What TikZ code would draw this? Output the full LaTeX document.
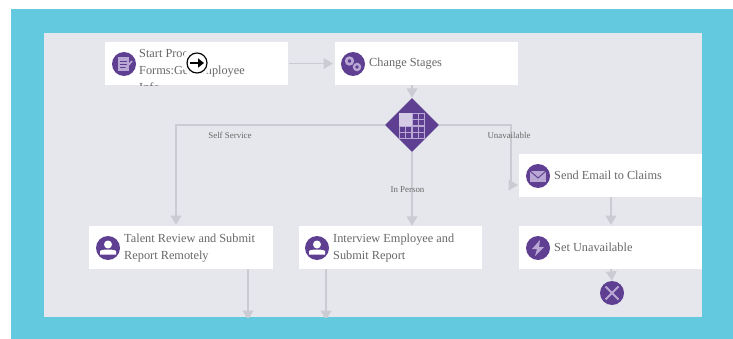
\documentclass[tikz,border=0pt]{standalone}
\usepackage{fontspec}
\setmainfont{Liberation Serif}
\usepackage{xcolor}
\usetikzlibrary{calc, positioning, arrows.meta, shapes.geometric}
\definecolor{frameTeal}{HTML}{62C9DE}
\definecolor{canvasGray}{HTML}{E6E7EC}
\definecolor{flowGray}{HTML}{CBCCD3}
\definecolor{iconPurple}{HTML}{5F3F92}
\definecolor{iconLilac}{HTML}{B9A8D3}
\definecolor{textGray}{HTML}{686868}
\tikzset{
    task/.style={rectangle, fill=white, minimum width=5.49cm, minimum height=1.29cm, inner sep=0pt},
    taskText/.style={anchor=west, align=left, inner sep=0pt, text=textGray, font=\fontsize{10.5}{14.4}\selectfont},
    edgeText/.style={inner sep=0pt, text=textGray, font=\fontsize{7.6}{8}\selectfont},
    flow/.style={draw=flowGray, line width=1.7pt, -{Triangle[length=8pt, width=9pt]}},
    badge/.style={circle, fill=iconPurple, minimum size=0.72cm, inner sep=0pt},
    gate/.style={diamond, fill=iconPurple, minimum size=1.62cm, inner sep=0pt},
    formIcon/.pic={
        \fill[iconLilac] (-6,-7) rectangle (5,7);
        \draw[iconPurple, line width=0.8pt] (-4,-3) -- (3,-3) (-4,0) -- (3,0) (-4,3) -- (3,3);
        \draw[iconLilac, line width=1.4pt] (2,4) -- (8,-3);
    },
    gearsIcon/.pic={
        \draw[iconLilac, line width=2.2pt] (-3.5,-3) circle (3.3);
        \draw[iconLilac, line width=2pt] (4,3) circle (3);
    },
    mailIcon/.pic={
        \fill[iconLilac] (-8,-5) rectangle (8,6);
        \draw[iconPurple, line width=0.8pt] (-8,-5) -- (0,2) -- (8,-5);
    },
    boltIcon/.pic={
        \fill[iconLilac] (2,-8) -- (-6,1) -- (-1,1) -- (-3,8) -- (6,-1) -- (1,-1) -- cycle;
    },
    userIcon/.pic={
        \fill[white] (0,-3.5) circle (4);
        \fill[white] (-8,6.5) -- (-8,3) .. controls (-6,1) and (6,1) .. (8,3) -- (8,6.5) -- cycle;
    },
    endIcon/.pic={
        \draw[iconLilac, line width=1.6pt] (-6.5,-6.5) -- (6.5,6.5) (-6.5,6.5) -- (6.5,-6.5);
    },
    gridIcon/.pic={
        \fill[iconLilac] (-13,-12) rectangle (13,14);
        \fill[iconLilac!60!white] (-13,-12) rectangle (0,1);
        \foreach \col in {0,1,2,3} {
            \foreach \row in {0,1,2,3} {
                \ifnum\numexpr\col+\row*4\relax=0 \else\ifnum\numexpr\col+\row*4\relax=1 \else\ifnum\numexpr\col+\row*4\relax=4 \else\ifnum\numexpr\col+\row*4\relax=5 \else
                \fill[iconPurple] ({-12+6.4*\col},{-11+6.4*\row}) rectangle +(5,5);
                \fi\fi\fi\fi
            }
        }
    }
}

\begin{document}
\begin{tikzpicture}[x=0.03cm, y=-0.03cm]
    \useasboundingbox (0,0) rectangle (733,339);

    % Frame and canvas
    \fill[frameTeal] (11,9) rectangle (733,339);
    \fill[canvasGray] (44,33) rectangle (702,317);

    \begin{scope}
    \clip (44,33) rectangle (702,317);

    % Tasks
    \node[task] (startBox) at (196.5,63.5) {};
    \node[task] (stagesBox) at (426.5,63.5) {};
    \node[task] (sendBox) at (610.5,175.5) {};
    \node[task] (unavailBox) at (610.5,247.5) {};
    \node[task] (talentBox) at (181,247.5) {};
    \node[task] (interviewBox) at (390.5,247.5) {};
    \node[gate] (routeGate) at (412,125) {};
    \node[badge] (endBadge) at (612,293) {};

    % Free ends of the connectors
    \coordinate (talentIn) at (176,225);
    \coordinate (sendCorner) at (510.5,185);
    \coordinate (sendIn) at (518,185);
    \coordinate (talentOut) at (248,320);
    \coordinate (interviewOut) at (326,320);

    % Connectors
    \draw[flow, shorten <=1pt, shorten >=1.5pt] (startBox.east) -- (stagesBox.west);
    \draw[flow] (routeGate.north |- stagesBox.south) -- (routeGate.north);
    \draw[flow] (routeGate.west) -| (talentIn);
    \draw[flow] (routeGate.south) -- (routeGate.south |- interviewBox.north);
    \draw[flow] (routeGate.east) -| (sendCorner) -- (sendIn);
    \draw[flow] (611,197) -- (611,225);
    \draw[flow] (611,269) -- (endBadge.north);
    \draw[flow] (talentOut |- talentBox.south) -- (talentOut);
    \draw[flow] (interviewOut |- interviewBox.south) -- (interviewOut);

    % Connector labels
    \node[edgeText] (selfLabel) at (230,135) {Self Service};
    \node[edgeText] (personLabel) at (407.5,190) {In Person};
    \node[edgeText] (unavailLabel) at (509,135) {Unavailable};

    % Badges
    \node[badge] (startBadge) at (124,64) {};
    \node[badge] (stagesBadge) at (353,64) {};
    \node[badge] (sendBadge) at (538,176) {};
    \node[badge] (unavailBadge) at (538,248) {};
    \node[badge] (talentBadge) at (108,248) {};
    \node[badge] (interviewBadge) at (317,248) {};
    \pic at (startBadge) {formIcon};
    \pic at (stagesBadge) {gearsIcon};
    \pic at (sendBadge) {mailIcon};
    \pic at (unavailBadge) {boltIcon};
    \pic at (talentBadge) {userIcon};
    \pic at (interviewBadge) {userIcon};
    \pic at (endBadge) {endIcon};
    \pic at (routeGate) {gridIcon};

    % Task texts
    \begin{scope}
    \clip (startBox.north west) rectangle (startBox.south east);
    \node[taskText] (startText) at (139,70.5) {Start Process\\Forms:Get Employee\\Info};
    \end{scope}
    \node[taskText] (stagesText) at (369,63.5) {Change Stages};
    \node[taskText] (sendText) at (554,175.5) {Send Email to Claims};
    \node[taskText] (unavailText) at (554,247.5) {Set Unavailable};
    \node[taskText] (talentText) at (124,248) {Talent Review and Submit\\Report Remotely};
    \node[taskText] (interviewText) at (333,248) {Interview Employee and\\Submit Report};

    % Cursor over the first task
    \fill[white, opacity=0.9] (197,62) circle (15);
    \node[circle, draw=black, fill=white, line width=1pt, minimum size=0.6cm, inner sep=0pt] (cursorMark) at (197,63) {};
    \draw[black, line width=2pt, -{Triangle[length=5pt, width=7.5pt]}] ($(cursorMark)+(-7,0)$) -- ($(cursorMark)+(7,0)$);
    \end{scope}
\end{tikzpicture}
\end{document}
